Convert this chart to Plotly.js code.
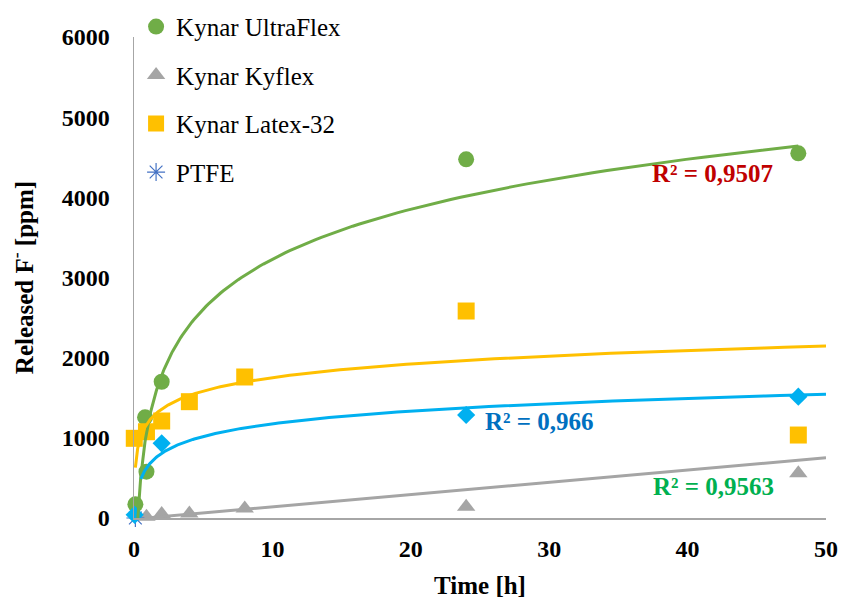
<!DOCTYPE html>
<html>
<head>
<meta charset="utf-8">
<script src="https://cdn.plot.ly/plotly-3.0.1.min.js"></script>
<style>html,body{margin:0;padding:0;background:#fff;}#chart{width:844px;height:599px;}</style>
</head>
<body>
<div id="chart"></div>
<script>
// ---- data ----
const ultraflexX = [0.1, 0.9, 0.8, 2, 24, 48];
const ultraflexY = [170, 578, 1256, 1700, 4474, 4549];

const kyflexX = [0.9, 2, 4, 8, 24, 48];
const kyflexY = [15, 50, 55, 120, 140, 558];

const latexX = [0.02, 0.9, 2, 4, 8, 24, 48];
const latexY = [994, 1076, 1210, 1451, 1759, 2582, 1035];

const ptfeX = [0.1];
const ptfeY = [0];

const diamondX = [0.05, 2, 24, 48];
const diamondY = [40, 932, 1285, 1513];

// trendline parameters read from the drawn trendlines: [a, b, xStart, xEnd]
// logarithmic: y = a*ln(x) + b ; linear: y = a*x + b
const trendUltraflex = [900, 1156, 0.1, 48];
const trendLatex = [244, 1190, 0.1, 50];
const trendDiamond = [229, 648, 0.5, 50];
const trendKyflex = [15.3, -13, 0.9, 50];

const r2Labels = ['R² = 0,9507', 'R² = 0,966', 'R² = 0,9563'];
const r2X = [41.8, 29.3, 41.9];
const r2Y = [4300, 1200, 387];
const r2Colors = ['#C00000', '#0070C0', '#00B050'];

// ---- build trendline curves ----
function logCurve(p) {
  const xs = [], ys = [];
  const n = 200;
  const l0 = Math.log(p[2]), l1 = Math.log(p[3]);
  for (let i = 0; i <= n; i++) {
    const x = Math.exp(l0 + (l1 - l0) * i / n);
    xs.push(x); ys.push(p[0] * Math.log(x) + p[1]);
  }
  return {xs, ys};
}
function linCurve(p) {
  return {xs: [p[2], p[3]], ys: [p[0] * p[2] + p[1], p[0] * p[3] + p[1]]};
}

const green = '#70AD47', grey = '#A5A5A5', orange = '#FFC000', lblue = '#00B0F0', ptfeBlue = '#4472C4';
const FONT = 'Liberation Serif';

const tUF = logCurve(trendUltraflex);
const tLX = logCurve(trendLatex);
const tDM = logCurve(trendDiamond);
const tKY = linCurve(trendKyflex);

const traces = [
  {x: ultraflexX, y: ultraflexY, name: 'Kynar UltraFlex', mode: 'markers', type: 'scatter',
   legendgroup: 'g1', marker: {symbol: 'circle', size: 16, color: green}, cliponaxis: false},
  {x: kyflexX, y: kyflexY, name: 'Kynar Kyflex', mode: 'markers', type: 'scatter',
   legendgroup: 'g2', marker: {symbol: 'triangle-up', size: 16, color: grey}, cliponaxis: false},
  {x: latexX, y: latexY, name: 'Kynar Latex-32', mode: 'markers', type: 'scatter',
   legendgroup: 'g3', marker: {symbol: 'square', size: 17, color: orange}, cliponaxis: false},
  {x: ptfeX, y: ptfeY, name: 'PTFE', mode: 'markers', type: 'scatter',
   legendgroup: 'g4', marker: {symbol: 'asterisk-open', size: 15, color: ptfeBlue, line: {color: ptfeBlue, width: 1.2}}, cliponaxis: false},
  {x: diamondX, y: diamondY, name: 'series5', mode: 'markers', type: 'scatter', showlegend: false,
   marker: {symbol: 'diamond', size: 14, color: lblue}, cliponaxis: false},
  {x: tUF.xs, y: tUF.ys, mode: 'lines', type: 'scatter', showlegend: false, hoverinfo: 'skip',
   line: {color: green, width: 3}},
  {x: tLX.xs, y: tLX.ys, mode: 'lines', type: 'scatter', showlegend: false, hoverinfo: 'skip',
   line: {color: orange, width: 3}},
  {x: tDM.xs, y: tDM.ys, mode: 'lines', type: 'scatter', showlegend: false, hoverinfo: 'skip',
   line: {color: lblue, width: 3}},
  {x: tKY.xs, y: tKY.ys, mode: 'lines', type: 'scatter', showlegend: false, hoverinfo: 'skip',
   line: {color: grey, width: 3}}
];

const annotations = r2Labels.map((t, i) => ({
  x: r2X[i], y: r2Y[i], xref: 'x', yref: 'y', text: '<b>' + t + '</b>', showarrow: false,
  font: {family: FONT, size: 25, color: r2Colors[i]}, xanchor: 'center', yanchor: 'middle'
}));

const layout = {
  width: 844, height: 599,
  margin: {l: 134, r: 18, t: 37, b: 81, autoexpand: false},
  paper_bgcolor: '#fff', plot_bgcolor: '#fff',
  font: {family: FONT, color: '#000'},
  showlegend: true,
  legend: {x: 0.003, xanchor: 'left', y: 1.069, yanchor: 'top', bgcolor: 'rgba(0,0,0,0)',
           font: {family: FONT, size: 25, color: '#000'}, tracegroupgap: 13, itemwidth: 30},
  xaxis: {range: [0, 50], dtick: 10, showgrid: false, zeroline: false, showline: true,
          linecolor: '#A6A6A6', linewidth: 1.5, ticks: '', ticklabelstandoff: 9,
          tickfont: {family: FONT, size: 24, color: '#000', weight: 'bold'},
          title: {text: '<b>Time [h]</b>', font: {family: FONT, size: 25, color: '#000'}, standoff: 17}},
  yaxis: {range: [0, 6000], dtick: 1000, showgrid: false, zeroline: false, showline: true,
          linecolor: '#A6A6A6', linewidth: 1.5, ticks: '', ticklabelstandoff: 18,
          tickfont: {family: FONT, size: 24, color: '#000', weight: 'bold'},
          title: {text: '<b>Released F<sup>-</sup> [ppm]</b>', font: {family: FONT, size: 25, color: '#000'}, standoff: 21}},
  annotations: annotations
};

Plotly.newPlot('chart', traces, layout, {displayModeBar: false, staticPlot: true});
</script>
</body>
</html>
